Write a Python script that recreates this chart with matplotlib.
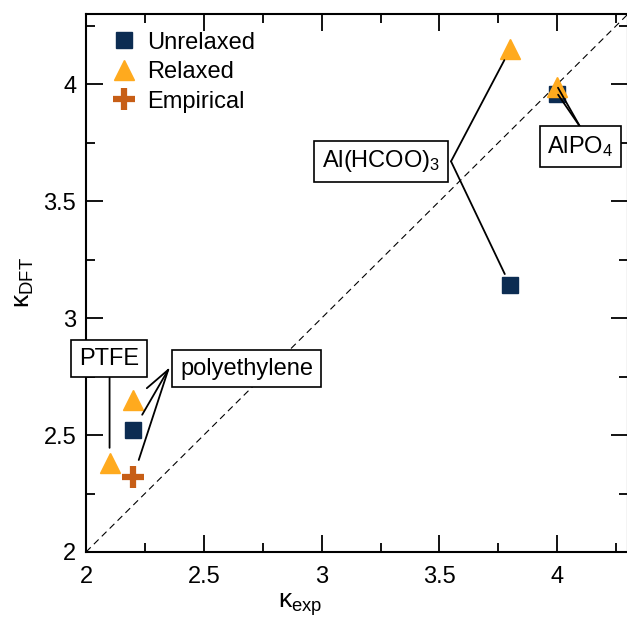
import numpy as np
import matplotlib
matplotlib.use('Agg')
import matplotlib.pyplot as plt

plt.rcParams['font.family'] = ['Liberation Sans', 'DejaVu Sans']
plt.rcParams['mathtext.fontset'] = 'custom'
plt.rcParams['mathtext.rm'] = 'Liberation Sans'
plt.rcParams['mathtext.it'] = 'Liberation Sans'

# data: (kappa_exp, kappa_DFT)
unrelaxed_x = [2.2, 3.8, 4.0]
unrelaxed_y = [2.52, 3.14, 3.96]
relaxed_x = [2.1, 2.2, 3.8, 4.0]
relaxed_y = [2.38, 2.65, 4.15, 3.99]
empirical_x = [2.2]
empirical_y = [2.32]

navy = '#0c2c52'
orange = '#ffaa1e'
rust = '#c75e16'

fig = plt.figure(figsize=(6.27, 6.19), dpi=100)
ax = fig.add_axes([86/627, 1 - 552/619, 542/627, 538/619])

ax.plot([2, 4.3], [2, 4.3], ls=(0, (6, 4)), color='k', lw=0.8)

ax.plot(unrelaxed_x, unrelaxed_y, 's', ms=12, color=navy, mec=navy, label='Unrelaxed', zorder=3)
ax.plot(relaxed_x, relaxed_y, '^', ms=14, color=orange, mec=orange, label='Relaxed', zorder=4)
ax.plot(empirical_x, empirical_y, '+', ms=16, mew=4.5, color=rust, label='Empirical', zorder=3)

box = dict(boxstyle='square,pad=0.33', fc='white', ec='black', lw=1.2)
tfs = 17

def label(txt, pos, anchor, points, shrink):
    ax.text(pos[0], pos[1], txt, fontsize=tfs, ha='center', va='center', bbox=box, zorder=6)
    for p in points:
        ax.annotate('', xy=p, xytext=anchor,
                    arrowprops=dict(arrowstyle='-', color='k', lw=1.3,
                                    shrinkA=0, shrinkB=shrink), zorder=5)

label('PTFE', (2.098, 2.827), (2.1, 2.745),
      [(relaxed_x[0], relaxed_y[0])], 11)
label('polyethylene', (2.681, 2.784), (2.349, 2.779),
      [(relaxed_x[1], relaxed_y[1]), (unrelaxed_x[0], unrelaxed_y[0]),
       (empirical_x[0], empirical_y[0])], 13)
label(r'Al(HCOO)$_3$', (3.251, 3.670), (3.549, 3.670),
      [(relaxed_x[2], relaxed_y[2]), (unrelaxed_x[1], unrelaxed_y[1])], 9)
label(r'AlPO$_4$', (4.098, 3.734), (4.098, 3.816),
      [(relaxed_x[3], relaxed_y[3]), (unrelaxed_x[2], unrelaxed_y[2])], 1)

ax.set_xlim(2, 4.3)
ax.set_ylim(2, 4.3)
ax.set_xticks([2, 2.5, 3, 3.5, 4])
ax.set_xticklabels(['2', '2.5', '3', '3.5', '4'])
ax.set_yticks([2, 2.5, 3, 3.5, 4])
ax.set_yticklabels(['2', '2.5', '3', '3.5', '4'])
ax.set_xticks(np.arange(2.25, 4.3, 0.5), minor=True)
ax.set_yticks(np.arange(2.25, 4.3, 0.5), minor=True)
ax.tick_params(which='both', direction='in', top=True, right=True, width=1.3)
ax.tick_params(which='major', length=12.5, labelsize=17)
ax.tick_params(which='minor', length=6.5)
ax.tick_params(axis='x', pad=10)
ax.tick_params(axis='y', pad=7)
for s in ax.spines.values():
    s.set_linewidth(1.5)

ax.set_xlabel(r'$\mathregular{κ_{exp}}$', fontsize=19)
ax.set_ylabel(r'$\mathregular{κ_{DFT}}$', fontsize=19)
ax.xaxis.set_label_coords((300 - 86) / 542, -(591 - 552) / 538)
ax.yaxis.set_label_coords(-(86 - 36) / 542, 0.5)

ax.legend(loc='upper left', bbox_to_anchor=(0.03, 0.985), frameon=False,
          fontsize=17, handlelength=1.0, handletextpad=0.5, labelspacing=0.32,
          borderaxespad=0, markerscale=1.0)

fig.savefig('out.png', dpi=100)
